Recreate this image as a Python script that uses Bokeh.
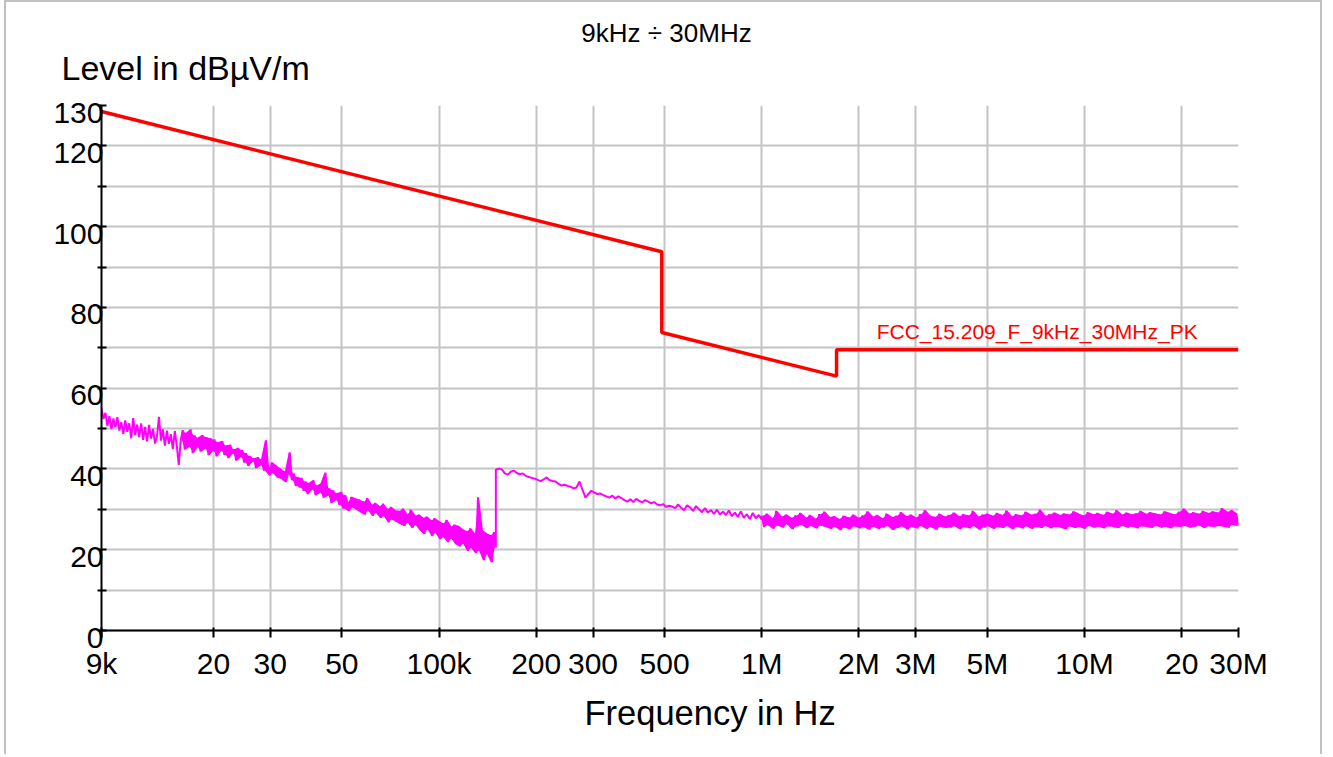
import numpy as np
from bokeh.plotting import figure
from bokeh.models import FixedTicker, Label, LinearAxis, LogAxis, Range1d, Span
from bokeh.embed import file_html
from bokeh.resources import INLINE

FONT = "Liberation Sans"

# ---- limit line FCC 15.209 (Hz, dBuV/m)
limit_freq_hz = [9e3, 490e3, 490e3, 1.705e6, 1.705e6, 30e6]
limit_level = [128.5, 93.8, 73.8, 63.0, 69.5, 69.5]
limit_name = "FCC_15.209_F_9kHz_30MHz_PK"
limit_label_pos = (2.27e6, 72.0)

seg_start_hz = [9e3, 150e3, 1e6]
seg_stop_hz = [150e3, 1e6, 30e6]
trace_seg1 = [
    55.0, 52.4, 53.9, 50.6, 53.1, 49.9, 52.5, 50.3, 52.8, 49.5,
    51.6, 48.7, 52.0, 49.2, 51.3, 47.6, 52.6, 48.4, 51.0, 47.9,
    51.3, 47.2, 50.4, 46.8, 50.9, 47.5, 49.9, 46.3, 48.1, 52.9,
    47.0, 49.8, 45.8, 49.5, 46.2, 48.6, 44.9, 49.4, 45.7, 41.0,
    47.2, 49.6, 44.8, 48.9, 45.5, 49.8, 43.9, 48.3, 45.4, 47.7,
    44.3, 48.4, 45.0, 47.9, 43.4, 47.6, 44.5, 47.3, 43.1, 46.6,
    44.6, 46.9, 43.5, 45.8, 42.7, 46.0, 43.9, 44.8, 42.1, 45.2,
    43.0, 44.7, 41.6, 43.9, 40.8, 43.2, 41.9, 42.6, 40.2, 42.9,
    41.0, 42.4, 39.6, 47.1, 40.3, 38.4, 41.6, 39.0, 40.8, 37.9,
    40.1, 37.6, 39.4, 36.8, 38.7, 44.1, 37.2, 38.9, 35.8, 38.0,
    35.4, 37.8, 34.6, 36.9, 33.8, 36.5, 35.0, 37.2, 33.5, 35.9,
    34.2, 36.4, 32.9, 39.1, 33.4, 35.2, 31.6, 34.7, 32.3, 34.0,
    31.1, 34.3, 30.2, 33.5, 31.8, 29.6, 33.1, 30.5, 32.7, 29.9,
    32.4, 29.3, 31.9, 28.7, 32.8, 29.8, 31.2, 28.4, 31.6, 29.1,
    30.8, 27.9, 31.4, 28.3, 30.1, 26.8, 30.6, 27.5, 29.8, 26.9,
    29.6, 26.4, 30.2, 25.9, 28.8, 26.7, 29.9, 25.4, 28.5, 26.1,
    28.7, 24.8, 27.9, 23.9, 28.2, 25.1, 27.3, 23.4, 27.8, 24.2,
    27.1, 22.6, 26.5, 23.1, 27.4, 21.9, 25.8, 22.8, 26.2, 21.4,
    25.9, 20.8, 25.1, 21.5, 24.6, 19.7, 25.3, 20.4, 24.0, 19.2,
    33.0, 19.8, 24.8, 17.4, 24.1, 18.9, 23.6, 16.9, 24.4, 20.5,
]
trace_seg2 = [
    39.8, 40.1, 39.9, 38.9, 38.6, 39.3, 39.6, 39.0, 38.7, 38.9,
    38.3, 38.0, 37.8, 37.6, 37.3, 37.0, 37.4, 37.9, 37.2, 37.0,
    36.9, 36.3, 35.9, 36.1, 35.8, 35.6, 35.2, 35.4, 36.9, 34.8,
    32.9, 33.8, 34.6, 34.1, 33.8, 33.9, 33.5, 33.2, 32.9, 33.4,
    32.7, 33.2, 32.8, 32.3, 31.9, 32.5, 31.8, 32.6, 32.1, 31.7,
    32.3, 31.9, 31.5, 31.8, 31.2, 31.0, 31.3, 30.6, 30.9, 30.7,
    30.3, 31.2, 30.4, 29.8, 31.0, 30.5, 29.6, 30.8, 30.0, 29.3,
    30.3, 29.2, 29.8, 28.9, 29.9, 28.7, 29.4, 28.6, 29.7, 28.3,
    29.2, 28.1, 29.5, 27.9, 28.8, 27.6, 29.1, 27.8, 28.6, 27.4,
]
trace_seg3 = [
    28.4, 25.6, 28.9, 26.1, 27.8, 25.2, 29.6, 26.0, 28.2, 25.5, 28.7, 26.3, 27.9, 25.1, 28.5, 25.8, 29.1, 26.2, 28.0, 25.4,
    28.6, 25.9, 27.7, 25.3, 28.8, 26.0, 29.4, 25.6, 28.1, 25.2, 28.3, 25.7, 27.6, 24.9, 28.4, 25.5, 28.0, 25.1, 28.7, 25.8,
    27.9, 25.3, 28.5, 25.6, 29.5, 25.0, 28.2, 25.7, 28.6, 25.2, 27.8, 25.5, 28.9, 25.9, 28.1, 24.9, 28.4, 25.4, 29.3, 25.8,
    28.3, 25.1, 28.7, 25.6, 28.0, 25.3, 28.8, 25.9, 29.8, 25.2, 28.4, 25.6, 28.1, 25.0, 28.9, 25.7, 28.2, 25.4, 28.6, 25.5,
    29.2, 25.8, 28.3, 25.1, 28.8, 25.6, 28.5, 25.3, 29.6, 25.9, 28.2, 25.0, 28.7, 25.5, 28.9, 25.8, 28.4, 25.2, 29.1, 25.6,
    28.6, 25.4, 29.7, 25.9, 28.3, 25.1, 28.8, 25.7, 28.5, 25.3, 29.4, 25.8, 28.7, 25.2, 28.9, 25.6, 29.9, 25.4, 28.4, 25.9,
    28.8, 25.3, 29.2, 25.7, 28.6, 25.5, 29.0, 25.1, 28.7, 25.8, 29.5, 25.4, 28.9, 25.6, 28.5, 25.2, 29.3, 25.9, 28.8, 25.5,
    29.1, 25.7, 28.6, 25.3, 29.4, 25.8, 28.9, 25.6, 29.8, 25.4, 28.7, 25.9, 29.2, 25.5, 28.8, 25.7, 29.0, 25.3, 29.6, 25.8,
    28.9, 25.6, 29.3, 25.4, 29.0, 25.9, 28.7, 25.5, 29.5, 25.7, 29.1, 25.3, 28.8, 25.8, 29.4, 25.6, 30.2, 25.9, 29.0, 25.5,
    29.3, 25.7, 28.9, 26.0, 29.6, 25.4, 29.1, 25.8, 29.5, 25.6, 29.2, 25.9, 30.3, 25.7, 29.4, 25.5, 29.8, 26.1, 29.0, 25.9,
]

# ---- axes
x_ticks = [9e3, 2e4, 3e4, 5e4, 1e5, 2e5, 3e5, 5e5, 1e6, 2e6, 3e6, 5e6, 1e7, 2e7, 3e7]
x_tick_labels = ["9k", "20", "30", "50", "100k", "200", "300", "500", "1M", "2M", "3M", "5M", "10M", "20", "30M"]
y_grid = [0, 10, 20, 30, 40, 50, 60, 70, 80, 90, 100, 110, 120, 130]
y_tick_values = [0, 20, 40, 60, 80, 100, 120, 130]
y_tick_labels = ["0", "20", "40", "60", "80", "100", "120", "130"]

title_text = "9kHz \u00f7 30MHz"
y_title = "Level in dB\u00b5V/m"
x_title = "Frequency in Hz"

segs = [trace_seg1, trace_seg2, trace_seg3]
seg_f = [np.geomspace(a, b, len(s)) for a, b, s in zip(seg_start_hz, seg_stop_hz, segs)]
trace_f = np.concatenate(seg_f)
trace_db = np.concatenate([np.array(s) for s in segs])


def envelope(f, v, start):
    f = np.asarray(f[start:]); v = np.asarray(v[start:])
    n = len(v) // 2 * 2
    a, b = v[0:n:2], v[1:n:2]
    fm = np.sqrt(f[0:n:2] * f[1:n:2])
    return fm, np.minimum(a, b), np.maximum(a, b)


PX_PER_DB = 525 / 130.0
LABEL_DROP = 7 / PX_PER_DB          # y tick labels sit 7 px below their grid line
W, H = 1318, 754
FRAME_TOP, FRAME_BOTTOM = 105, 637   # page pixels (canvas starts at y=2)

p = figure(width=W, height=H, x_axis_type=None, y_axis_type=None,
           x_range=(9e3, 3e7), y_range=Range1d(-LABEL_DROP, 130),
           output_backend="svg", toolbar_location=None,
           min_border_left=95, min_border_right=86, min_border_top=FRAME_TOP - 2,
           min_border_bottom=H + 2 - FRAME_BOTTOM,
           outline_line_color=None, background_fill_color="white", border_fill_color="white")
p.styles = {"margin-left": "4px",
            "border-left": "2px solid #c0c0c0", "border-top": "2px solid #c0c0c0",
            "border-right": "2px solid #c0c0c0"}
p.extra_y_ranges = {"lab": Range1d(0, 130 + LABEL_DROP)}

# scales: log x
from bokeh.models import LogScale
p.x_scale = LogScale()

# x axis at the frame bottom: ticks drawn inwards up across the 0 dB line, labels below
xaxis = LogAxis(ticker=FixedTicker(ticks=x_ticks),
                major_label_overrides={t: s for t, s in zip(x_ticks, x_tick_labels)},
                axis_line_color=None, major_tick_line_color="black", major_tick_line_width=2,
                minor_tick_line_color=None, major_tick_in=10, major_tick_out=0,
                major_label_standoff=9,
                major_label_text_font=FONT, major_label_text_font_size="30px",
                major_label_text_color="black")
p.add_layout(xaxis, "below")

# y axis line + ticks (no labels)
yaxis = LinearAxis(ticker=FixedTicker(ticks=y_grid),
                   major_label_overrides={v: "" for v in y_grid},
                   axis_line_color="black", axis_line_width=2,
                   major_tick_line_color="black", major_tick_line_width=2,
                   minor_tick_line_color=None, major_tick_in=5, major_tick_out=4,
                   major_label_standoff=0)
p.add_layout(yaxis, "left")

# y tick labels on their own axis, shifted 7 px below the grid lines
ylab = LinearAxis(y_range_name="lab", ticker=FixedTicker(ticks=y_tick_values),
                  major_label_overrides={v: s for v, s in zip(y_tick_values, y_tick_labels)},
                  axis_line_color=None, major_tick_line_color=None, minor_tick_line_color=None,
                  major_tick_in=0, major_tick_out=0, major_label_standoff=-6,
                  major_label_text_font=FONT, major_label_text_font_size="30px",
                  major_label_text_color="black")
p.add_layout(ylab, "left")

p.xgrid.ticker = FixedTicker(ticks=x_ticks)
p.ygrid.ticker = FixedTicker(ticks=y_grid)
from bokeh.models import Grid
p.add_layout(Grid(dimension=0, ticker=FixedTicker(ticks=x_ticks),
                  grid_line_color="#c4c4c4", grid_line_width=2))
p.add_layout(Grid(dimension=1, ticker=FixedTicker(ticks=y_grid),
                  grid_line_color="#c4c4c4", grid_line_width=2))

# 0 dB axis line
p.add_layout(Span(location=0, dimension="width", line_color="black", line_width=2))

MAG = "#ff00ff"
for k, start in ((0, 40), (2, 0)):
    fm, lo, hi = envelope(seg_f[k], segs[k], start)
    p.varea(x=fm, y1=lo, y2=hi, fill_color=MAG, fill_alpha=1.0)
p.line(trace_f, trace_db, line_color=MAG, line_width=2)
p.line(limit_freq_hz, limit_level, line_color="#ff0000", line_width=3.5)

p.add_layout(Label(x=limit_label_pos[0], y=limit_label_pos[1], y_offset=8, text=limit_name,
                   text_align="left", text_baseline="alphabetic",
                   text_font=FONT, text_font_size="21px", text_color="#ff0000"))

p.add_layout(Label(x=9e3, y=130, x_offset=565, y_offset=73, text=title_text,
                   text_align="center", text_baseline="alphabetic",
                   text_font=FONT, text_font_size="26px", text_color="black"), "above")
p.add_layout(Label(x=9e3, y=130, x_offset=-40, y_offset=38, text=y_title,
                   text_align="left", text_baseline="alphabetic",
                   text_font=FONT, text_font_size="34px", text_color="black"), "above")
p.add_layout(Label(x=9e3, y=0, x_offset=483, y_offset=-82, text=x_title,
                   text_align="left", text_baseline="alphabetic",
                   text_font=FONT, text_font_size="34.5px", text_color="black"), "below")

open("out.html", "w").write(file_html(p, INLINE))
